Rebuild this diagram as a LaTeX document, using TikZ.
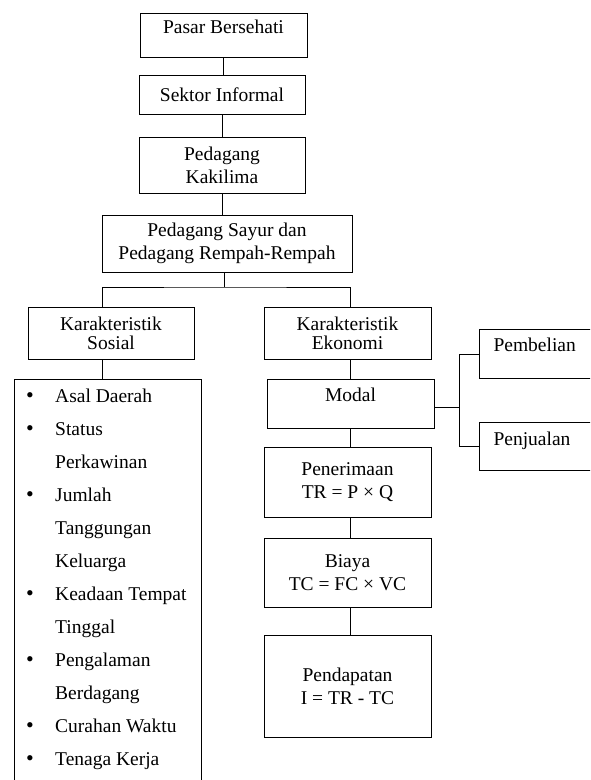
\documentclass[tikz,border=0pt]{standalone}
\usepackage{fontspec}
\setmainfont{Liberation Serif}
\usetikzlibrary{positioning}

\begin{document}
\begin{tikzpicture}[x=1pt, y=-1pt,
    box/.style={draw, line width=1pt, align=center, inner sep=0pt, font=\fontsize{19.5}{23}\selectfont},
    topbox/.style={box, anchor=north},
    sidebox/.style={box, anchor=north west, align=left, text width=100pt, inner xsep=14pt},
    item/.style={anchor=base west, inner sep=0pt, font=\fontsize{19.5}{23}\selectfont},
    link/.style={line width=1pt}
]
\useasboundingbox (0,0) rectangle (590,780);
\clip (0,0) rectangle (590,780);

% Main chain - top of the tree
\node[topbox, minimum width=167pt, text height=20pt, text depth=24pt] (pasar) at (223.5,13) {Pasar Bersehati};
\node[box, minimum width=166pt, minimum height=39pt] (sektor) at (222,94.5) {Sektor Informal};
\node[box, minimum width=166pt, minimum height=56pt] (kakilima) at (222,165) {Pedagang\\Kakilima};
\node[box, minimum width=250pt, minimum height=57pt] (sayur) at (227,243.5) {Pedagang Sayur dan\\Pedagang Rempah-Rempah};

\draw[link] (pasar.south) -- (pasar.south |- sektor.north);
\draw[link] (sektor.south) -- (sektor.south |- kakilima.north);
\draw[link] (kakilima.south) -- (kakilima.south |- sayur.north);

% Two branches
\node[box, minimum width=166pt, minimum height=52pt, font=\fontsize{19.5}{19}\selectfont] (sosial) at (111,333) {Karakteristik\\Sosial};
\node[box, minimum width=167pt, minimum height=52pt, font=\fontsize{19.5}{19}\selectfont] (ekonomi) at (347.5,333) {Karakteristik\\Ekonomi};

\coordinate (split) at (224,287);
\coordinate (lspine) at (102,379);
\coordinate (rspine) at (350,379);
\draw[link] (split |- sayur.south) -- (split);
\draw[link] (lspine |- sosial.north) |- (split) -| (rspine |- ekonomi.north);

% Social side - list box (runs past the bottom edge)
\node[draw, line width=1pt, anchor=north, minimum width=187pt, minimum height=420pt] (list) at (107.5,379) {};
\draw[link] (lspine |- sosial.south) -- (lspine |- list.north);

\foreach \flag/\txt [count=\i from 0] in {1/Asal Daerah, 1/Status, 0/Perkawinan, 1/Jumlah, 0/Tanggungan, 0/Keluarga, 1/Keadaan Tempat, 0/Tinggal, 1/Pengalaman, 0/Berdagang, 1/Curahan Waktu, 1/Tenaga Kerja} {
    \pgfmathsetmacro{\y}{402+\i*33}
    \node[item] (item\i) at (55,\y) {\txt};
    \ifnum\flag=1 \node[item, anchor=base, font=\fontsize{22}{22}\selectfont] (dot\i) at (30,\y) {\textbullet}; \fi
}

% Economic side
\node[topbox, minimum width=167pt, text height=22pt, text depth=27pt] (modal) at (350.5,379) {Modal};
\node[box, minimum width=167pt, minimum height=70pt] (terima) at (347.5,482) {Penerimaan\\TR = P × Q};
\node[box, minimum width=167pt, minimum height=69pt] (biaya) at (347.5,572.5) {Biaya\\TC = FC × VC};
\node[box, minimum width=167pt, minimum height=102pt] (dapat) at (347.5,686) {Pendapatan\\I = TR - TC};

\foreach \a/\b in {ekonomi/modal, modal/terima, terima/biaya, biaya/dapat}
    \draw[link] (rspine |- \a.south) -- (rspine |- \b.north);

% Modal split into buying and selling
\node[sidebox, text height=22pt, text depth=27pt] (beli) at (479,329) {Pembelian};
\node[sidebox, text height=23pt, text depth=25pt] (jual) at (479,422) {Penjualan};

\coordinate (fork) at (459,407);
\draw[link] (modal.east |- fork) -- (fork);
\draw[link] (beli.west) -| (fork |- jual.west) -- (jual.west);

\end{tikzpicture}
\end{document}
